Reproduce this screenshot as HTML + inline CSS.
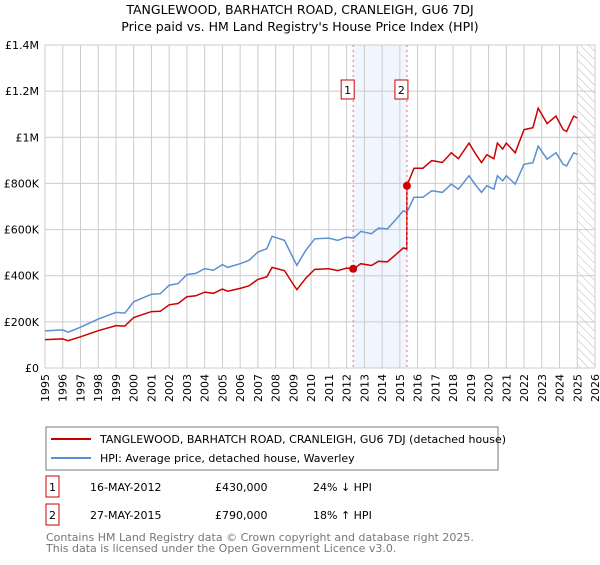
<!DOCTYPE html>
<html><head><meta charset="utf-8"><style>
body{margin:0;background:#fff;font-family:"Liberation Sans","DejaVu Sans",sans-serif;}
svg text{font-family:"DejaVu Sans","Liberation Sans",sans-serif;}
</style></head><body>
<svg id="c" width="600" height="560" viewBox="0 0 600 560" xmlns="http://www.w3.org/2000/svg">
<defs><pattern id="hatch" width="6" height="6" patternUnits="userSpaceOnUse" patternTransform="rotate(-45)"><line x1="0" y1="0" x2="0" y2="6" stroke="#bbb" stroke-width="1"/></pattern></defs>
<text x="300" y="14" text-anchor="middle" font-size="12.5">TANGLEWOOD, BARHATCH ROAD, CRANLEIGH, GU6 7DJ</text>
<text x="300" y="31" text-anchor="middle" font-size="12.5">Price paid vs. HM Land Registry's House Price Index (HPI)</text>
<g id="plot"></g>
<rect x="46" y="427" width="452" height="43" fill="#fff" stroke="#777"/>
<line x1="51" y1="439" x2="91" y2="439" stroke="#cc0000" stroke-width="2"/>
<text x="100" y="443" font-size="11">TANGLEWOOD, BARHATCH ROAD, CRANLEIGH, GU6 7DJ (detached house)</text>
<line x1="51" y1="458" x2="91" y2="458" stroke="#5b8fd4" stroke-width="2"/>
<text x="100" y="462" font-size="11">HPI: Average price, detached house, Waverley</text>
<g>
<rect x="46" y="476" width="13" height="21" fill="#fff" stroke="#cc0000"/>
<text x="52.5" y="491" text-anchor="middle" font-size="11">1</text>
<text x="90" y="491" font-size="11">16-MAY-2012</text>
<text x="215" y="491" font-size="11">£430,000</text>
<text x="313" y="491" font-size="11">24% ↓ HPI</text></g>
<g>
<rect x="46" y="504" width="13" height="21" fill="#fff" stroke="#cc0000"/>
<text x="52.5" y="519" text-anchor="middle" font-size="11">2</text>
<text x="90" y="519" font-size="11">27-MAY-2015</text>
<text x="215" y="519" font-size="11">£790,000</text>
<text x="313" y="519" font-size="11">18% ↑ HPI</text></g>
<text x="46" y="541" font-size="11" fill="#777">Contains HM Land Registry data © Crown copyright and database right 2025.</text>
<text x="46" y="552" font-size="11" fill="#777">This data is licensed under the Open Government Licence v3.0.</text>
</svg>
<script>
const hpiYears=[1995,1996,1996.3,1997,1998,1999,1999.5,2000,2001,2001.5,2002,2002.5,2003,2003.5,2004,2004.5,2005,2005.3,2006,2006.5,2007,2007.5,2007.8,2008.5,2009,2009.2,2009.7,2010.2,2011,2011.5,2012,2012.4,2012.8,2013.4,2013.8,2014.3,2014.8,2015.2,2015.4,2015.8,2016.3,2016.8,2017.4,2017.9,2018.3,2018.9,2019.3,2019.6,2019.9,2020.3,2020.5,2020.8,2021,2021.5,2022,2022.5,2022.8,2023.3,2023.8,2024.2,2024.4,2024.8,2025];
const hpiValues=[161,165,155,177,212,241,238,287,320,322,359,366,405,410,431,424,448,436,452,467,503,517,571,553,474,445,510,560,563,553,567,563,592,582,606,603,646,682,675,740,740,768,761,797,775,833,790,761,790,775,833,811,833,797,883,890,962,905,933,883,876,933,926];
const saleYears=[2012.37,2015.4];
const salePrices=[430,790];
const yTicks=[0,200,400,600,800,1000,1200,1400];
const yTickLabels=["£0","£200K","£400K","£600K","£800K","£1M","£1.2M","£1.4M"];
const xTicks=[1995,1996,1997,1998,1999,2000,2001,2002,2003,2004,2005,2006,2007,2008,2009,2010,2011,2012,2013,2014,2015,2016,2017,2018,2019,2020,2021,2022,2023,2024,2025,2026];
const NS="http://www.w3.org/2000/svg";
const L=45,R=595,T=45,B=368;
const X=y=>L+(y-1995)/(2026-1995)*(R-L);
const Y=v=>B-v/1400*(B-T);
const g=document.getElementById('plot');
function mk(tag,attrs,parent){const e=document.createElementNS(NS,tag);for(const k in attrs)e.setAttribute(k,attrs[k]);(parent||g).appendChild(e);return e;}
function hpiAt(t){for(let i=1;i<hpiYears.length;i++){if(t<=hpiYears[i]){const f=(t-hpiYears[i-1])/(hpiYears[i]-hpiYears[i-1]);return hpiValues[i-1]+f*(hpiValues[i]-hpiValues[i-1]);}}return hpiValues[hpiValues.length-1];}
// shaded band
let e=mk('rect',{x:X(saleYears[0]),y:T,width:X(saleYears[1])-X(saleYears[0]),height:B-T,fill:'#eef3fc',opacity:0.8});


e=mk('rect',{x:X(2025),y:T,width:R-X(2025),height:B-T,fill:'url(#hatch)'});


xTicks.forEach(t=>{const l=mk('line',{x1:X(t),x2:X(t),y1:T,y2:B,stroke:'#ccc','stroke-width':1});


const tx=mk('text',{x:0,y:0,'font-size':11,'text-anchor':'end',transform:`translate(${X(t)+4},${B+6}) rotate(-90)`});tx.textContent=t;

});
yTicks.forEach((v,i)=>{const l=mk('line',{x1:L,x2:R,y1:Y(v),y2:Y(v),stroke:'#ccc','stroke-width':1});


const tx=mk('text',{x:L-6,y:Y(v)+4,'font-size':11,'text-anchor':'end'});tx.textContent=yTickLabels[i];

});
// hpi line
let d=hpiYears.map((t,i)=>(i?'L':'M')+X(t).toFixed(1)+','+Y(hpiValues[i]).toFixed(1)).join('');
e=mk('path',{d:d,fill:'none',stroke:'#5b8fd4','stroke-width':1.5});


// price line indexed by HPI
const r1=salePrices[0]/hpiAt(saleYears[0]),r2=salePrices[1]/hpiAt(saleYears[1]);
let pts=[];
hpiYears.forEach((t,i)=>{if(t<saleYears[1])pts.push([t,hpiValues[i]*(t<saleYears[0]?r1:r1)]);});
pts=[];
hpiYears.forEach((t,i)=>{if(t<saleYears[0])pts.push([t,hpiValues[i]*r1]);});
pts.push([saleYears[0],salePrices[0]]);
hpiYears.forEach((t,i)=>{if(t>saleYears[0]&&t<saleYears[1])pts.push([t,hpiValues[i]*r1]);});
pts.push([saleYears[1]-0.01,hpiAt(saleYears[1])*r1]);
pts.push([saleYears[1],salePrices[1]]);
hpiYears.forEach((t,i)=>{if(t>saleYears[1])pts.push([t,hpiValues[i]*r2]);});
d=pts.map((p,i)=>(i?'L':'M')+X(p[0]).toFixed(1)+','+Y(p[1]).toFixed(1)).join('');
e=mk('path',{d:d,fill:'none',stroke:'#cc0000','stroke-width':1.5});


saleYears.forEach((t,i)=>{
const l=mk('line',{x1:X(t),x2:X(t),y1:T,y2:B,stroke:'#f07070','stroke-dasharray':'2,3','stroke-width':1});


const c=mk('circle',{cx:X(t),cy:Y(salePrices[i]),r:4,fill:'#cc0000'});


const bx=mk('rect',{x:X(t)-12,y:80,width:13,height:19,fill:'#fff',stroke:'#cc0000'});


const tx=mk('text',{x:X(t)-5.5,y:94,'font-size':11,'text-anchor':'middle'});tx.textContent=String(i+1);

});
</script>
</body></html>
